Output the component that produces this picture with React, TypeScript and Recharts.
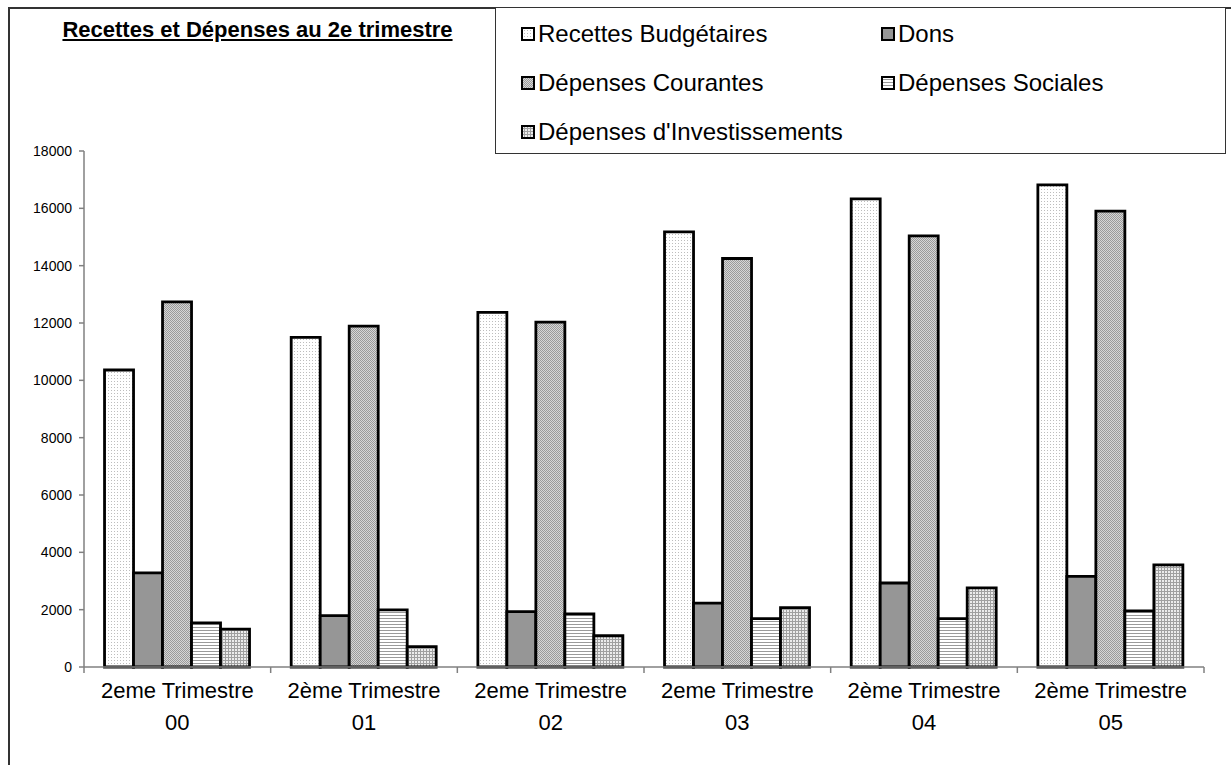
import { BarChart, Bar, XAxis, YAxis } from 'recharts'

const categories = [
  '2eme Trimestre 00',
  '2ème Trimestre 01',
  '2eme Trimestre 02',
  '2eme Trimestre 03',
  '2ème Trimestre 04',
  '2ème Trimestre 05',
]
const recettes = [10360, 11500, 12370, 15180, 16330, 16820]
const dons = [3280, 1790, 1930, 2230, 2930, 3160]
const courantes = [12740, 11890, 12030, 14250, 15040, 15900]
const sociales = [1540, 1990, 1850, 1690, 1690, 1960]
const invest = [1320, 710, 1090, 2070, 2760, 3560]
const yTicks = [0, 2000, 4000, 6000, 8000, 10000, 12000, 14000, 16000, 18000]

const series = [
  { key: 'recettes', name: 'Recettes Budgétaires', fill: 'url(#pat-rec)' },
  { key: 'dons', name: 'Dons', fill: '#969696' },
  { key: 'courantes', name: 'Dépenses Courantes', fill: 'url(#pat-cour)' },
  { key: 'sociales', name: 'Dépenses Sociales', fill: 'url(#pat-soc)' },
  { key: 'invest', name: "Dépenses d'Investissements", fill: 'url(#pat-inv)' },
]

const data = categories.map((name, i) => ({
  name,
  recettes: recettes[i],
  dons: dons[i],
  courantes: courantes[i],
  sociales: sociales[i],
  invest: invest[i],
}))

const FONT = '"Liberation Sans", Arial, sans-serif'
const W = 1231
const H = 765
const PLOT_LEFT = 84
const PLOT_RIGHT = 1204
const band = (PLOT_RIGHT - PLOT_LEFT) / categories.length

function CategoryTick(props: any) {
  const { x, y, payload, index } = props
  const label: string = payload.value
  const cut = label.lastIndexOf(' ')
  const line1 = label.slice(0, cut)
  const line2 = label.slice(cut + 1)
  const left = x - band / 2
  const right = x + band / 2
  return (
    <g>
      <line x1={left} x2={left} y1={y} y2={y + 6} stroke="#808080" strokeWidth={1.5} />
      {index === categories.length - 1 && (
        <line x1={right} x2={right} y1={y} y2={y + 6} stroke="#808080" strokeWidth={1.5} />
      )}
      <text x={x} y={y + 31} textAnchor="middle" fontSize={22} fontFamily={FONT} fill="#000">
        {line1}
      </text>
      <text x={x} y={y + 63} textAnchor="middle" fontSize={22} fontFamily={FONT} fill="#000">
        {line2}
      </text>
    </g>
  )
}

function Swatch({ fill }: { fill: string }) {
  return (
    <svg width={14} height={14} style={{ display: 'block' }}>
      <rect x={1} y={1} width={12} height={12} fill={fill} stroke="#000" strokeWidth={2} />
    </svg>
  )
}

const legendPos = [
  { left: 25, top: 26 },
  { left: 385, top: 26 },
  { left: 25, top: 75 },
  { left: 385, top: 75 },
  { left: 25, top: 124 },
]

export default function App() {
  return (
    <div style={{ position: 'absolute', left: 0, top: 0, width: W, height: H, background: '#fff', fontFamily: FONT, overflow: 'hidden' }}>
      <div
        style={{
          position: 'absolute',
          left: 8,
          top: 7,
          width: 1230,
          height: 800,
          borderLeft: '2px solid #333',
          borderTop: '2px solid #333',
          boxSizing: 'border-box',
        }}
      />
      <div
        style={{
          position: 'absolute',
          left: 14,
          top: 19,
          width: 487,
          textAlign: 'center',
          fontSize: 22,
          lineHeight: '22px',
          fontWeight: 'bold',
          textDecoration: 'underline',
        }}
      >
        Recettes et Dépenses au 2e trimestre
      </div>
      <BarChart
        width={W}
        height={H}
        data={data}
        margin={{ top: 151, right: W - PLOT_RIGHT, bottom: 18, left: 8 }}
        barCategoryGap="11%"
        barGap={0}
      >
        <defs>
          <pattern id="pat-rec" width={3} height={3} patternUnits="userSpaceOnUse">
            <rect width={3} height={3} fill="#fff" />
            <rect width={1} height={1} fill="#bdbdbd" />
          </pattern>
          <pattern id="pat-cour" width={2} height={2} patternUnits="userSpaceOnUse">
            <rect width={2} height={2} fill="#d6d6d6" />
            <rect width={1} height={1} fill="#9a9a9a" />
            <rect x={1} y={1} width={1} height={1} fill="#9a9a9a" />
          </pattern>
          <pattern id="pat-soc" width={4} height={3} patternUnits="userSpaceOnUse">
            <rect width={4} height={3} fill="#fff" />
            <rect width={4} height={1} fill="#9a9a9a" />
          </pattern>
          <pattern id="pat-inv" width={3} height={3} patternUnits="userSpaceOnUse">
            <rect width={3} height={3} fill="#ececec" />
            <rect width={3} height={1} fill="#a0a0a0" />
            <rect width={1} height={3} fill="#a0a0a0" />
          </pattern>
        </defs>
        <XAxis
          dataKey="name"
          height={80}
          interval={0}
          tickSize={0}
          tickMargin={0}
          tickLine={false}
          axisLine={{ stroke: '#808080', strokeWidth: 1.5 }}
          tick={<CategoryTick />}
        />
        <YAxis
          width={76}
          domain={[0, 18000]}
          ticks={yTicks}
          interval={0}
          tickSize={5}
          tickMargin={7}
          tickLine={{ stroke: '#808080', strokeWidth: 1.5 }}
          axisLine={{ stroke: '#808080', strokeWidth: 1.5 }}
          tick={{ fontSize: 14, fill: '#000', fontFamily: FONT }}
        />
        {series.map((s) => (
          <Bar
            key={s.key}
            dataKey={s.key}
            name={s.name}
            fill={s.fill}
            stroke="#000"
            strokeWidth={2.8}
            isAnimationActive={false}
          />
        ))}
      </BarChart>
      <div
        style={{
          position: 'absolute',
          left: 495,
          top: 7,
          width: 731,
          height: 147,
          border: '1.5px solid #333',
          boxSizing: 'border-box',
          background: '#fff',
        }}
      >
        {series.map((s, i) => (
          <div
            key={s.key}
            style={{
              position: 'absolute',
              left: legendPos[i].left,
              top: legendPos[i].top - 14,
              height: 28,
              display: 'flex',
              alignItems: 'center',
              gap: 3,
              fontSize: 24,
              whiteSpace: 'nowrap',
            }}
          >
            <Swatch fill={s.fill} />
            <span>{s.name}</span>
          </div>
        ))}
      </div>
    </div>
  )
}
